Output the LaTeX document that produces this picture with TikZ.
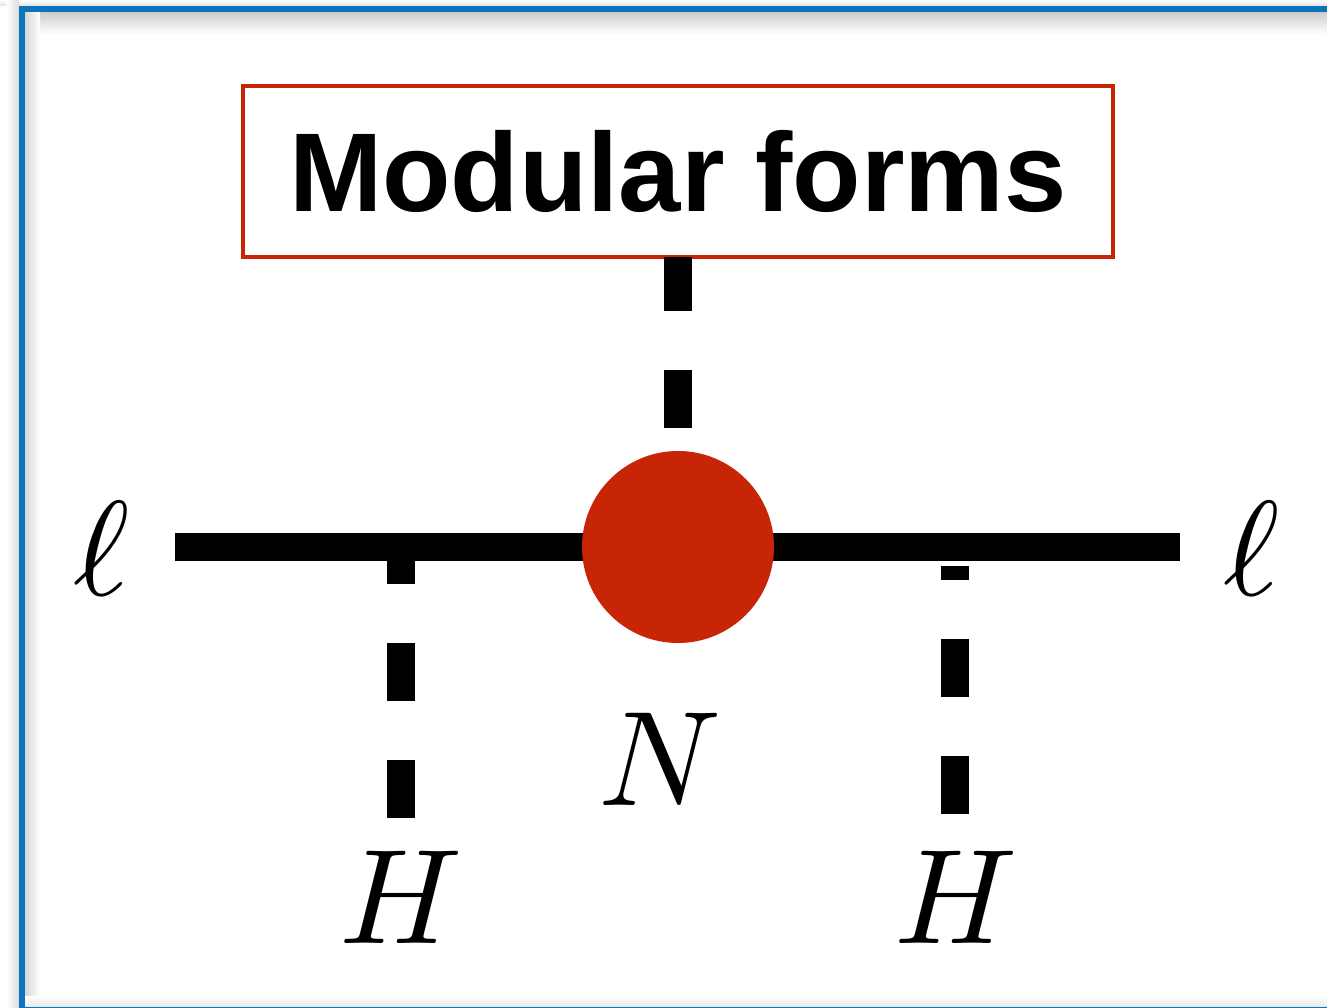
\documentclass[tikz,border=0pt]{standalone}
\usepackage{fontspec}
\newfontfamily\hvfont{Liberation Sans}
\definecolor{fred}{RGB}{200,36,6}
\definecolor{fblue}{RGB}{12,116,186}
\newcommand{\bigmath}[1]{\scalebox{13.5}{$#1$}}
\tikzset{
  thickline/.style={line width=28pt, black},
  dashline/.style={line width=28pt, black, dash pattern=on 58pt off 59pt},
  mathlabel/.style={inner sep=0pt},
  framebox/.style={draw=fred, line width=4pt, minimum width=870pt, minimum height=171pt, inner sep=0pt,
    font=\hvfont\bfseries\fontsize{112}{112}\selectfont},
  vertex/.style={circle, fill=fred, draw=none, minimum size=192pt, inner sep=0pt}
}
\begin{document}
\begin{tikzpicture}[x=1pt,y=-1pt]
\useasboundingbox (0,0) rectangle (1327,1008);
% shadows
\shade[top color=white, bottom color=black!12] (0,0) rectangle (1327,6);
\shade[left color=white, right color=black!14] (6,0) rectangle (19,1008);
\shade[top color=black!20, bottom color=white] (25,12) rectangle (1327,34);
\shade[left color=black!16, right color=white] (25,12) rectangle (40,1006);
\shade[top color=white, bottom color=black!8] (25,996) rectangle (1327,1006);
% frame
\draw[fblue, line width=6pt] (22,9) rectangle (1350,1010);
% box
\node[framebox] (mf) at (678,171.5) {Modular forms};
% coordinates
\coordinate (cc) at (678,547);
\coordinate (lL) at (175,547);
\coordinate (lR) at (1180,547);
\coordinate (a1) at (401,547);
\coordinate (b1) at (401,818);
\coordinate (a2) at (955,547);
\coordinate (b2) at (955,814);
% dashed legs
\draw[dashline, dash phase=4pt] (678,257) -- (cc);
\draw[dashline, dash phase=21pt] (a1) -- (b1);
\draw[line width=28pt, black, dash pattern=on 0pt off 19pt on 14pt off 59pt on 58pt off 59pt on 58pt off 200pt] (a2) -- (b2);
% main line
\draw[thickline] (lL) -- (lR);
% vertex
\node[vertex] (c) at (cc) {};
% labels
\node[mathlabel, anchor=base] (l1) at (102,595) {\bigmath{\ell}};
\node[mathlabel, anchor=base] (l2) at (1252,595) {\bigmath{\ell}};
\node[mathlabel, anchor=base] (h1) at (401,943) {\bigmath{H}};
\node[mathlabel, anchor=base] (h2) at (956,943) {\bigmath{H}};
\begin{scope}
\clip (0,600) rectangle (716,900);
\node[mathlabel, anchor=base west] (n) at (598,805) {\bigmath{N}};
\end{scope}
\end{tikzpicture}
\end{document}
